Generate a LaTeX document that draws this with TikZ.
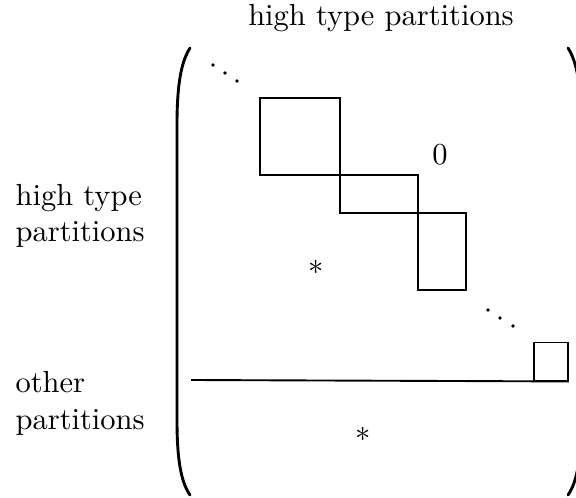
\documentclass[tikz,border=0pt]{standalone}
\begin{document}
\begin{tikzpicture}[x=0.3279pt,y=-0.3279pt,
  blk/.style={draw,line width=0.62pt},
  rule/.style={line width=0.62pt},
  paren/.style={line width=0.95pt,line cap=round},
  lbl/.style={inner sep=0pt,align=left,anchor=base west},
  dotmark/.style={fill,circle,inner sep=0pt,minimum size=1.2pt}]
\useasboundingbox (0,0) rectangle (576,498);
\clip (0,0) rectangle (576,498);
% big parentheses
\draw[paren] (190,48) .. controls (181,62) and (177,85) .. (177,125) -- (177,420) .. controls (177,460) and (181,482) .. (190,495);
\draw[paren] (568,48) .. controls (577,62) and (581,85) .. (581,125) -- (581,420) .. controls (581,460) and (577,482) .. (568,495);
% diagonal blocks
\node[blk,minimum width=80*0.3279pt,minimum height=77*0.3279pt,inner sep=0pt] (b1) at (300,136.5) {};
\node[blk,minimum width=78*0.3279pt,minimum height=38*0.3279pt,inner sep=0pt] (b2) at (379,194) {};
\node[blk,minimum width=48*0.3279pt,minimum height=77*0.3279pt,inner sep=0pt] (b3) at (442,251.5) {};
\node[blk,minimum width=34*0.3279pt,minimum height=38*0.3279pt,inner sep=0pt] (b4) at (551,361.5) {};
% separator row
\coordinate (sepL) at (191,380);
\draw[rule] (sepL) -- (b4.south east);
% dots
\node[dotmark] (d1) at (213,65) {};
\node[dotmark] (d2) at (225,73) {};
\node[dotmark] (d3) at (237,81) {};
\node[dotmark] (d4) at (488,310) {};
\node[dotmark] (d5) at (500,318) {};
\node[dotmark] (d6) at (513,326) {};
% entries
\node (zero) at (440,155) {$0$};
\node (s1) at (316,267) {$*$};
\node (s2) at (363,434) {$*$};
% labels (base anchor sits on the last line)
\node[inner sep=0pt,anchor=base] (top) at (381,26) {high type partitions};
\node[lbl] (hl) at (15,242) {high type\\partitions};
\node[lbl] (ol) at (15,429) {other\\partitions};
\end{tikzpicture}
\end{document}
